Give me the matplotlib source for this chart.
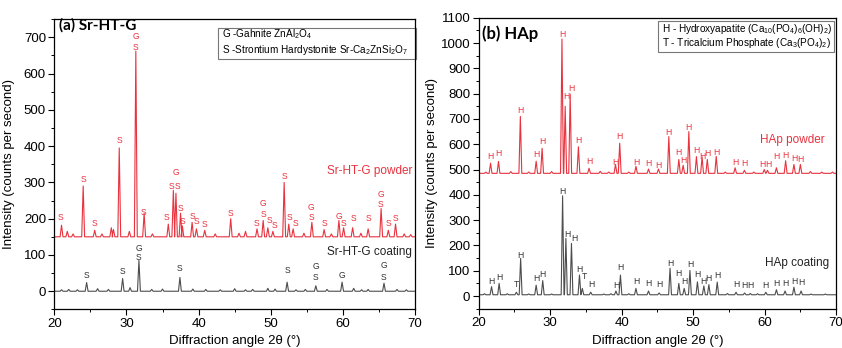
import matplotlib
matplotlib.use("Agg")
import matplotlib.pyplot as plt
import numpy as np

plt.rcParams['font.family'] = ['Liberation Sans', 'DejaVu Sans']
plt.rcParams['mathtext.fontset'] = 'custom'
plt.rcParams['mathtext.rm'] = 'Liberation Sans'
plt.rcParams['mathtext.it'] = 'Liberation Sans:italic'

red = "#e8333f"
grey = "#4d4d4d"

# ---- (a) Sr-HT-G : peak positions (2theta) and peak-top intensities
sr_pow_base = 150
sr_pow_pos = [21.0, 21.8, 22.6, 24.0, 25.6, 26.6, 27.9, 28.2, 29.0, 30.4, 31.3, 32.45, 33.6,
              35.8, 36.5, 36.86, 37.5, 37.75, 39.1, 39.7, 40.85, 42.3, 44.45, 45.6, 46.5,
              48.1, 48.95, 49.6, 50.3, 51.86, 52.5, 53.1, 54.6, 55.7, 57.4, 58.4, 59.45,
              60.1, 61.35, 62.5, 63.5, 65.3, 66.3, 67.3, 68.5, 69.4]
sr_pow_int = [182, 165, 158, 290, 168, 158, 175, 170, 395, 165, 662, 215, 158,
              185, 278, 270, 215, 180, 190, 172, 168, 158, 200, 160, 165,
              172, 195, 175, 165, 300, 185, 172, 160, 190, 170, 158, 195,
              175, 175, 160, 172, 228, 168, 185, 158, 156]

sr_coat_base = 0
sr_coat_pos = [21.0, 22.0, 23.2, 24.48, 26.0, 27.5, 29.47, 30.5, 31.73, 33.5, 35.0, 37.41,
               39.2, 41.0, 43.0, 45.0, 46.5, 47.5, 49.6, 50.6, 52.27, 53.5, 54.8, 56.25,
               57.8, 59.89, 61.5, 62.6, 63.5, 65.7, 67.5, 68.8]
sr_coat_int = [4, 5, 4, 24, 7, 5, 35, 10, 85, 5, 6, 38,
               6, 5, 4, 7, 4, 5, 8, 6, 25, 4, 5, 15,
               5, 25, 8, 4, 5, 22, 5, 4]

sr_pow_lab_x = [20.93, 24.02, 25.54, 29.0, 31.3, 31.3, 32.42, 35.51, 36.2, 37.04, 36.86,
                37.55, 37.78, 39.11, 39.72, 40.87, 44.47, 48.07, 48.95, 48.95, 49.78,
                50.57, 51.86, 52.55, 53.43, 55.65, 55.65, 57.49, 59.47, 60.12, 61.41,
                63.49, 65.25, 65.25, 66.26, 67.28]
sr_pow_lab_y = [204, 307, 187, 415, 702, 672, 218, 204, 288, 288, 326,
                229, 192, 207, 191, 185, 213, 188, 241, 212, 194,
                180, 316, 204, 187, 232, 204, 187, 207, 186, 200,
                200, 266, 239, 187, 200]
sr_pow_lab_t = ['S', 'S', 'S', 'S', 'G', 'S', 'S', 'S', 'S', 'S', 'G',
                'S', 'S', 'S', 'S', 'S', 'S', 'S', 'G', 'S', 'S',
                'S', 'S', 'S', 'S', 'G', 'S', 'S', 'G', 'S', 'S',
                'S', 'G', 'S', 'S', 'S']

sr_coat_lab_x = [24.48, 29.47, 31.73, 31.73, 37.41, 52.27, 56.25, 56.25, 59.89, 65.7, 65.7]
sr_coat_lab_y = [44, 55, 118, 92, 63, 57, 68, 39, 44, 71, 39]
sr_coat_lab_t = ['S', 'S', 'G', 'S', 'S', 'S', 'G', 'S', 'G', 'G', 'S']

# ---- (b) HAp
hap_pow_base = 485
hap_pow_pos = [21.0, 21.66, 22.77, 24.5, 25.83, 27.0, 28.04, 28.87, 30.2, 31.65, 32.1, 32.8,
               33.95, 35.44, 37.0, 38.2, 39.14, 39.73, 41.0, 42.0, 43.76, 45.15, 46.6, 48.0,
               48.6, 49.4, 50.46, 51.25, 51.98, 53.23, 54.5, 55.87, 57.17, 58.5, 59.95,
               60.4, 61.65, 62.94, 64.1, 65.0, 66.4, 68.0, 69.5]
hap_pow_int = [490, 525, 532, 492, 710, 490, 533, 584, 492, 1016, 750, 798,
               590, 505, 493, 490, 520, 604, 490, 513, 502, 502, 630, 540,
               517, 650, 551, 550, 540, 552, 490, 507, 497, 490, 500,
               497, 507, 535, 520, 520, 492, 490, 490]

hap_coat_base = 5
hap_coat_pos = [20.8, 21.8, 22.86, 24.0, 25.27, 25.87, 27.0, 28.04, 28.96, 30.2, 31.74,
                32.2, 32.98, 34.1, 34.5, 35.67, 37.5, 38.5, 39.2, 39.83, 41.0, 42.0, 43.76,
                45.24, 46.77, 48.0, 48.75, 49.55, 50.6, 51.5, 52.2, 53.37, 54.8, 56.0,
                57.2, 58.0, 59.0, 60.17, 61.65, 62.86, 64.1, 65.1, 66.5, 68.5]
hap_coat_int = [9, 37, 50, 9, 15, 149, 8, 43, 61, 8, 396,
                228, 208, 83, 30, 15, 8, 9, 20, 83, 9, 30, 20,
                12, 110, 50, 30, 101, 56, 40, 45, 55, 10, 15,
                12, 10, 9, 15, 25, 20, 35, 20, 8, 8]

hap_pow_lab_x = [21.66, 22.77, 25.83, 28.04, 28.87, 31.65, 32.29, 32.94, 33.95, 35.44,
                 39.14, 39.73, 42.0, 43.76, 45.2, 46.6, 48.0, 48.6, 49.4, 50.46, 51.25,
                 51.98, 53.23, 55.87, 57.17, 59.75, 60.55, 61.65, 62.94, 64.1, 65.0]
hap_pow_lab_y = [551, 564, 732, 561, 611, 1033, 789, 819, 615, 533,
                 529, 630, 529, 522, 516, 645, 567, 535, 665, 574, 551,
                 562, 567, 528, 525, 520, 520, 551, 554, 542, 538]

hap_coat_lab_x = [21.8, 22.86, 25.27, 25.87, 28.04, 28.96, 31.74, 32.4, 33.35, 34.1, 34.75,
                  35.76, 39.2, 39.83, 42.0, 43.76, 45.24, 46.77, 48.0, 48.75, 49.55,
                  50.6, 51.5, 52.2, 53.37, 56.0, 57.2, 58.0, 60.17, 61.65, 62.86,
                  64.1, 65.1]
hap_coat_lab_y = [59, 72, 44, 162, 68, 84, 413, 245, 228, 103, 77,
                  47, 42, 111, 59, 50, 44, 130, 90, 59, 126,
                  84, 57, 70, 80, 44, 40, 40, 42, 48, 48,
                  59, 53]
hap_coat_lab_t = ['H', 'H', 'T', 'H', 'H', 'H', 'H', 'H', 'H', 'H', 'T',
                  'H', 'H', 'H', 'H', 'H', 'H', 'H', 'H', 'H', 'H',
                  'H', 'H', 'H', 'H', 'H', 'H', 'H', 'H', 'H', 'H',
                  'H', 'H']


def pattern(pos, ints, base, half=0.2):
    # polyline through the read peak tops, dropping to the baseline between them
    xs = [20.0]
    ys = [base]
    for p, h in sorted(zip(pos, ints)):
        xs += [p - half, p, p + half]
        ys += [base, h, base]
    xs.append(70.0)
    ys.append(base)
    return xs, ys


def style_axes(ax, ymax, ystep):
    ax.set_xlim(20, 70)
    ax.set_ylim(-50, ymax)
    ax.set_xticks(np.arange(20, 71, 10))
    ax.set_xticks(np.arange(25, 70, 10), minor=True)
    ax.set_yticks(np.arange(0, ymax + 1, ystep))
    ax.set_yticks(np.arange(-50, ymax + 1, ystep / 2), minor=True)
    ax.tick_params(which='major', direction='out', length=4, width=0.8, labelsize=9.5, pad=2)
    ax.tick_params(which='minor', direction='out', length=2.5, width=0.7)
    for s in ax.spines.values():
        s.set_linewidth(0.9)
    ax.set_xlabel("Diffraction angle 2θ (°)", fontsize=9.5, labelpad=4)
    ax.set_ylabel("Intensity (counts per second)", fontsize=9.5)


fig = plt.figure(figsize=(8.42, 3.48), dpi=100)
ax1 = fig.add_axes([0.0645, 0.111, 0.4284, 0.834])
ax2 = fig.add_axes([0.5685, 0.113, 0.4245, 0.836])

# panel (a)
x, y = pattern(sr_pow_pos, sr_pow_int, sr_pow_base)
ax1.plot(x, y, color=red, lw=0.8)
x, y = pattern(sr_coat_pos, sr_coat_int, sr_coat_base)
ax1.plot(x, y, color=grey, lw=0.8)
for lx, ly, t in zip(sr_pow_lab_x, sr_pow_lab_y, sr_pow_lab_t):
    ax1.text(lx, ly, t, color=red, fontsize=6.2, ha='center', va='center')
for lx, ly, t in zip(sr_coat_lab_x, sr_coat_lab_y, sr_coat_lab_t):
    ax1.text(lx, ly, t, color='#333333', fontsize=6.2, ha='center', va='center')
ax1.text(69.6, 332, "Sr-HT-G powder", color=red, fontsize=8.5, ha='right', va='center')
ax1.text(69.6, 108, "Sr-HT-G coating", color='#222222', fontsize=8.5, ha='right', va='center')
ax1.text(0.012, 0.978, "(a) Sr-HT-G", transform=ax1.transAxes, fontsize=11,
         fontweight='bold', family='Lato', ha='left', va='center')
ax1.add_patch(plt.Rectangle((0.454, 0.862), 0.55, 0.107, transform=ax1.transAxes,
                            fill=False, ec='#777777', lw=0.8, clip_on=False))
ax1.text(0.466, 0.947, "G -Gahnite ZnAl$_2$O$_4$", transform=ax1.transAxes,
         fontsize=7.2, va='center')
ax1.text(0.466, 0.893, "S -Strontium Hardystonite Sr-Ca$_2$ZnSi$_2$O$_7$",
         transform=ax1.transAxes, fontsize=7.2, va='center')
style_axes(ax1, 750, 100)
ax1.yaxis.set_label_coords(-0.108, 0.5)

# panel (b)
x, y = pattern(hap_pow_pos, hap_pow_int, hap_pow_base)
ax2.plot(x, y, color=red, lw=0.8)
x, y = pattern(hap_coat_pos, hap_coat_int, hap_coat_base)
ax2.plot(x, y, color=grey, lw=0.8)
for lx, ly in zip(hap_pow_lab_x, hap_pow_lab_y):
    ax2.text(lx, ly, 'H', color=red, fontsize=6.2, ha='center', va='center')
for lx, ly, t in zip(hap_coat_lab_x, hap_coat_lab_y, hap_coat_lab_t):
    ax2.text(lx, ly, t, color='#333333', fontsize=6.2, ha='center', va='center')
ax2.text(68.4, 617, "HAp powder", color=red, fontsize=8.5, ha='right', va='center')
ax2.text(69.0, 129, "HAp coating", color='#222222', fontsize=8.5, ha='right', va='center')
ax2.text(0.01, 0.945, "(b) HAp", transform=ax2.transAxes, fontsize=12,
         fontweight='bold', family='Lato', ha='left', va='center')
ax2.add_patch(plt.Rectangle((0.503, 0.882), 0.49, 0.107, transform=ax2.transAxes,
                            fill=False, ec='#777777', lw=0.8))
ax2.text(0.512, 0.961, "H - Hydroxyapatite (Ca$_{10}$(PO$_4$)$_6$(OH)$_2$)",
         transform=ax2.transAxes, fontsize=7.2, va='center')
ax2.text(0.512, 0.913, "T - Tricalcium Phosphate (Ca$_3$(PO$_4$)$_2$)",
         transform=ax2.transAxes, fontsize=7.2, va='center')
style_axes(ax2, 1100, 100)
ax2.yaxis.set_label_coords(-0.113, 0.5)

fig.savefig("out.png", dpi=100)
